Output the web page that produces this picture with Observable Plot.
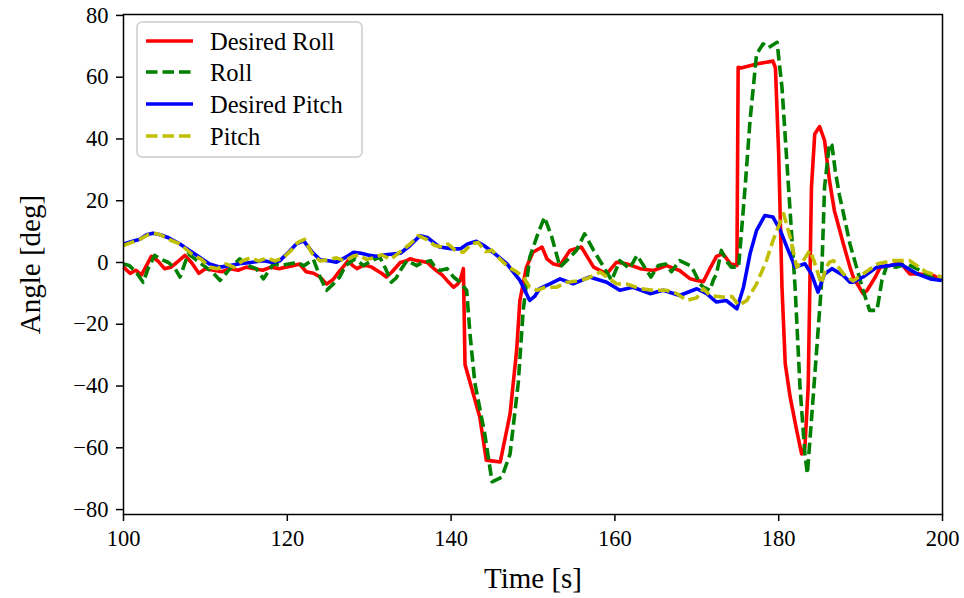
<!DOCTYPE html>
<html>
<head>
<meta charset="utf-8">
<script src="https://cdn.jsdelivr.net/npm/d3@7"></script>
<script src="https://cdn.jsdelivr.net/npm/@observablehq/plot@0.6"></script>
<style>
  html, body { margin: 0; padding: 0; background: white; }
  #chart { position: relative; width: 964px; height: 598px; }
</style>
</head>
<body>
<div id="chart"></div>
<script>
// ---- Data ----
const seriesNames = ["Desired Roll", "Roll", "Desired Pitch", "Pitch"];

const desRollT = [100,100.8,101.5,102.2,102.8,103.4,104.2,105,105.8,106.5,107.5,108.3,109.2,110,111,112,113,114,115,116,117,118,119,119.8,120.8,121.5,122.3,123.2,124,124.8,125.6,126.3,126.8,127.4,128,128.5,129.2,129.7,130.3,130.9,131.5,132.1,132.8,133.8,134.5,135,135.8,136.5,137.1,137.7,138.2,138.9,139.5,140.3,140.8,141.1,141.5,141.7,142.3,143.5,144.3,146,147.2,148,148.4,149.2,150,151.1,151.7,152.5,153.3,154.5,155.9,157.4,159,160.2,161.4,163.1,164.7,166.3,167.9,169.2,170,170.8,171.6,172.4,173.2,174.1,174.9,175.05,175.4,177.3,179.3,179.6,180,180.4,180.8,181.4,182.2,182.8,183.2,183.6,183.8,184,184.4,185,185.6,186.2,186.8,187.9,188.7,189.1,190.3,190.8,191.8,192.4,193.6,194.8,196,197.2,198.9,199.9];
const desRollV = [-1.5,-3.5,-2.5,-4,-1,2,0.5,-2,-1.5,0,2.3,0,-3.5,-2,-2.5,-3,-2,-2.5,-1.5,-2,-2.5,-1.5,-2,-1.5,-1,-0.5,-3,-3.5,-4.7,-7,-5.5,-3,-1.5,0.5,-1,-2,-1,-1,-1.5,-2.5,-3.5,-4.7,-3,0,0.5,1.2,0.6,0.3,0,-1.5,-2.6,-4,-5.8,-8,-7,-5.8,-2,-33,-38.7,-50,-64,-64.6,-49,-28.5,-12.3,-1.5,3.3,5,1.2,-0.5,-1,3.9,5,-1.5,-3.7,0.1,-0.4,-2,-2.6,-1,-2.6,-5.3,-5.8,-6.2,-2,2,2.8,-0.4,-1,63.2,63,64.3,65.2,63,35,-8,-32.8,-43.6,-54.4,-62,-59.8,-40.3,-8,24.4,41.6,44,39.5,26.5,16.8,6,-1.5,-4.7,-10.1,-9,-4.7,-1.5,-1,0.1,-3.7,-3.7,-4.2,-5.8];

const rollT = [100,100.7,101.5,102.4,103,103.8,104.6,105.5,106.3,106.9,107.9,108.8,109.8,110.8,111.8,113,114.2,115.2,116.2,117.1,118.3,119.3,120.3,121.3,122,123.2,124,124.8,125.6,126.4,127.1,128.3,129.3,130.3,131.3,132,132.7,133.3,133.8,134.6,135.8,136.5,137.5,137.9,138.6,139.5,140.3,141.1,141.9,142.3,142.9,144.1,145,146.2,147.2,148.2,148.8,149.6,150.6,151.4,152.3,153.3,154.1,155.3,156.3,157.4,158.4,159.6,160.6,161.8,162.7,164,164.4,165.3,166.2,166.9,167.9,169.2,169.6,170.4,170.8,171.6,172,172.4,173,173.6,174.2,175.1,175.9,176.5,177.3,178.1,178.7,179.8,180.4,181.2,182,182.6,183.2,183.5,184,184.6,185.2,185.6,186.2,186.5,186.9,187.4,187.9,188.7,189.5,190.3,191.1,192,192.6,193.2,194.4,195.6,197.3,199.3,200];
const rollV = [-0.5,-1,-3,-6.4,-2,2.3,1,0,-2,-4.7,2.8,1,-1,-3,-5.8,-2,1.2,-1,-2,-5.3,-0.4,-1,-0.4,0,-1.1,1,-4.7,-9,-7,-4.7,-1,1.2,-1,0.6,1.7,-2,-6.4,-5,-2.6,0.6,-1,0,0.6,-1,-2.6,-2,-4.7,-6.4,-9,-23,-39,-55.4,-71,-69.5,-62,-39,-15.5,1.7,9.3,14.7,8.2,-1.5,0.6,3.9,9.3,3.9,-0.4,-5.8,0.6,-2,2.3,-3.1,-4.7,-1,-0.5,-3,0.6,-1,-2.6,-6.9,-8,-9,-5.8,-3.7,3.9,0.6,-1.5,-1.5,24.4,46,67.5,70.8,69.5,71.3,56.7,24.4,-8,-40.3,-62,-68.4,-51,-29.5,-8,24.4,38.6,38,29.8,22,16,6,-1.5,-9,-15.5,-15.5,-5.8,-1,-1.5,-0.4,-2.6,-5.8,-5.5];

const desPitchT = [100,101,102,102.8,103.6,104.5,105.5,106.9,108,109.3,110.5,111.8,113,114.2,115.5,117.1,118.2,119.1,120.2,121.1,122,123,124,125.2,126,127,128.1,129,130.1,130.8,132,133.8,135,136.2,137.1,138.6,140,141.1,142,143.1,144,145.5,146.8,148.4,149.6,150.2,150.8,152,153.3,154.9,156.9,159,160.6,162.2,164.3,165.9,167.9,170,171.2,172.4,173.6,174.9,175.7,176.5,177.3,178.3,179.3,180.2,181,182,183.2,184,184.8,185.6,186.5,187.9,188.7,189.1,190.3,192,193.6,194.8,196.9,198.5,199.9];
const desPitchV = [6,6.8,7.5,9,9.5,9,8,6,4,1.7,-0.5,-1.5,-1,-0.4,0,0.6,0,0.6,3.5,6,7,3.5,0.9,0.5,0.1,1.5,3.3,3,2.3,2,2.5,3,5.5,8.7,8.1,5,4.5,4.4,6,6.9,5.5,2.5,-0.4,-5.8,-12.3,-11,-8.5,-7,-5.3,-6.9,-4.7,-6.4,-9,-8,-10.1,-9,-10.7,-8.5,-10.1,-12.8,-12.3,-15,-8,2.8,10.4,15.2,14.7,10.4,5,-1.5,-0.4,-3.7,-9.6,-3.7,-2,-4.2,-6.4,-6.4,-4.7,-1.5,-1,-0.4,-3.7,-5.3,-5.8];

const pitchT = [100,101,102,103,103.7,104.5,105.5,106.9,108.2,109.5,110.5,111.5,112.5,113.5,114.5,115.5,116.5,117.5,118.5,119.5,120.5,121.3,122.1,123,124,125,126,127,128,128.8,129.6,130.5,131.5,132.6,133.8,135,136,137,138,138.9,139.6,140.5,141.5,142.5,143.3,144.2,145,146,147,148,148.9,149.6,150.5,151.5,152.9,154,155.3,156.5,158.2,159.2,160.2,161.5,163.1,164.7,166.3,167.5,168.8,170,170.8,171.6,173.2,174.3,175.1,176.1,177.3,178.5,179.3,180.6,181.4,182.2,183,183.8,184.3,185.2,185.8,186.2,186.7,187.9,188.7,189.1,190.3,192.1,194,196,198,199.9];
const pitchV = [5.5,6.5,7.5,9,9.5,9,7.5,6,3,1,-1.5,-2,-0.5,-1.5,0.5,1.5,0.5,1.5,0.5,1.5,4,6.5,7.5,3,0.5,0.9,1.5,0.5,2,2.5,1,1.5,2.5,1,3.5,6,8.7,7.5,5.5,5,6,4,3.3,6,6.5,3.5,4,1,-1.5,-3,-5,-8,-9,-8,-8,-6.5,-6,-5.3,-3.1,-5,-6.9,-7,-8.5,-9,-9,-10,-12.3,-11.4,-8.5,-10.7,-11.2,-11,-13.9,-12.3,-6.9,0.6,7.1,15.8,8.2,-1.5,0.6,3.9,0.6,-6.9,-1.5,0.1,0.6,-3.7,-5.3,-6,-3.7,-0.4,0.6,0.6,-3.1,-4.7];

const xTicks = [100, 120, 140, 160, 180, 200];
const yTicks = [-80, -60, -40, -20, 0, 20, 40, 60, 80];
const colors = ["#ff0000", "#008000", "#0000ff", "#bfbf00"];
const dashes = [null, "11.5,5", null, "11.5,5"];

// ---- Build tables ----
const toRows = (ts, vs) => ts.map((t, i) => ({t, v: vs[i]}));
const tables = [
  toRows(desRollT, desRollV),
  toRows(rollT, rollV),
  toRows(desPitchT, desPitchV),
  toRows(pitchT, pitchV)
];

const FONT = "'Liberation Serif', 'DejaVu Serif', serif";
const LW = 3.6;

const lineMarks = tables.map((rows, i) => Plot.line(rows, {
  x: "t", y: "v",
  stroke: colors[i],
  strokeWidth: LW,
  strokeDasharray: dashes[i] || undefined,
  strokeLinejoin: "round",
  strokeLinecap: "butt"
}));

const chart = Plot.plot({
  width: 964,
  height: 598,
  marginLeft: 123,
  marginRight: 22,
  marginTop: 14,
  marginBottom: 84,
  style: {fontFamily: FONT, fontSize: "22.5px", background: "white", color: "black"},
  x: {domain: [100, 200], ticks: xTicks, label: null},
  y: {domain: [-81.6, 80.3], ticks: yTicks, label: null},
  marks: [
    ...lineMarks,
    Plot.axisX({ticks: xTicks, tickSize: 7, tickPadding: 9, label: null, strokeWidth: 1.5}),
    Plot.axisY({ticks: yTicks, tickSize: 7, tickPadding: 8, label: null, strokeWidth: 1.5}),
    Plot.frame({stroke: "black", strokeWidth: 1.5}),
    Plot.text(["Time [s]"], {frameAnchor: "bottom", dy: 64, lineAnchor: "middle", fontSize: 29, fill: "black"}),
    Plot.text(["Angle [deg]"], {frameAnchor: "left", dx: -93, rotate: -90, lineAnchor: "middle", textAnchor: "middle", fontSize: 29, fill: "black"})
  ]
});

document.getElementById("chart").appendChild(chart);

// ---- Legend inside the axes (top-left) ----
const svg = d3.select(chart);
const lg = svg.append("g").attr("class", "legend");
lg.append("rect")
  .attr("x", 137).attr("y", 22).attr("width", 225).attr("height", 135)
  .attr("rx", 5).attr("ry", 5)
  .attr("fill", "white").attr("fill-opacity", 0.8)
  .attr("stroke", "#cccccc").attr("stroke-width", 1.5);
const rowY = [41, 72, 104, 136];
seriesNames.forEach((name, i) => {
  const l = lg.append("line")
    .attr("x1", 146).attr("x2", 193)
    .attr("y1", rowY[i]).attr("y2", rowY[i])
    .attr("stroke", colors[i]).attr("stroke-width", LW);
  if (dashes[i]) l.attr("stroke-dasharray", dashes[i]);
  lg.append("text")
    .attr("x", 210).attr("y", rowY[i]).attr("dy", "0.35em")
    .attr("text-anchor", "start")
    .attr("font-family", FONT).attr("font-size", 24.5)
    .attr("fill", "black")
    .text(name);
});
</script>
</body>
</html>
